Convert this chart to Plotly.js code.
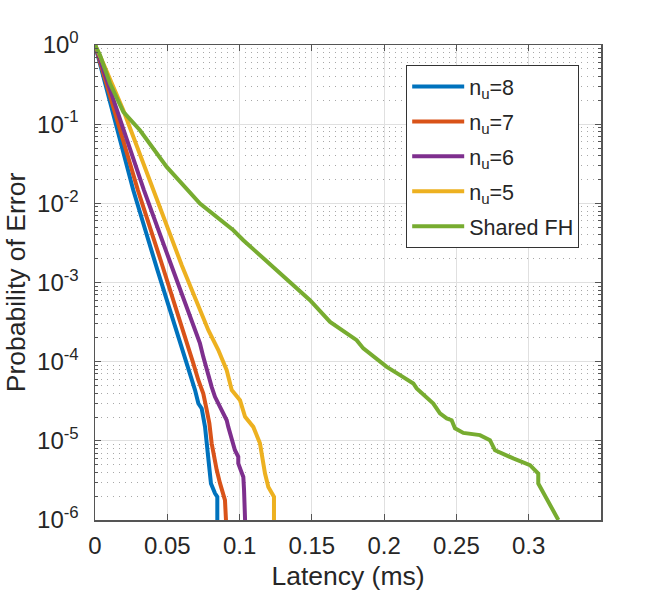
<!DOCTYPE html>
<html>
<head>
<meta charset="utf-8">
<script src="https://cdn.plot.ly/plotly-3.0.1.min.js"></script>
<style>
  html, body { margin: 0; padding: 0; background: #ffffff; }
  #chart { width: 665px; height: 594px; }
</style>
</head>
<body>
<div id="chart"></div>
<script>
// Latency (ms) versus probability of error, one curve per configuration

const latency_nu8 = [0, 0.0131, 0.0265, 0.0432, 0.0560, 0.0600, 0.0623, 0.0657, 0.0692, 0.0715, 0.0738, 0.0761, 0.0773, 0.0791, 0.0802, 0.0830, 0.0846, 0.0846];
const perr_nu8    = [1, 0.122, 0.0146, 0.00143, 2.5e-4, 1.54e-4, 1.15e-4, 7.1e-5, 4.37e-5, 2.96e-5, 2.56e-5, 1.5e-5, 9.3e-6, 5.2e-6, 2.9e-6, 2.17e-6, 1.96e-6, 1e-6];

const latency_nu7 = [0, 0.0149, 0.0297, 0.0454, 0.0611, 0.0646, 0.0680, 0.0715, 0.0749, 0.0773, 0.0791, 0.0807, 0.0823, 0.0842, 0.0865, 0.0887, 0.0899, 0.0906];
const perr_nu7    = [1, 0.1205, 0.0146, 0.00191, 2.5e-4, 1.54e-4, 9.5e-5, 5.83e-5, 3.96e-5, 2.44e-5, 1.66e-5, 9.3e-6, 6.3e-6, 4.27e-6, 2.9e-6, 2.17e-6, 1.78e-6, 1e-6];

const latency_nu6 = [0, 0.0169, 0.0339, 0.0515, 0.0692, 0.0726, 0.0749, 0.0773, 0.0807, 0.0830, 0.0865, 0.0887, 0.0911, 0.0922, 0.0934, 0.0946, 0.0968, 0.0991, 0.0991, 0.1008, 0.1026, 0.1031, 0.1038];
const perr_nu6    = [1, 0.1205, 0.0146, 0.00191, 2.5e-4, 1.7e-4, 1.15e-4, 7.8e-5, 4.8e-5, 3.6e-5, 2.69e-5, 2.22e-5, 1.82e-5, 1.5e-5, 1.24e-5, 1.02e-5, 7.6e-6, 6.3e-6, 5.2e-6, 4.27e-6, 3.5e-6, 2.39e-6, 1e-6];

const latency_nu5 = [0, 0.0048, 0.0196, 0.0403, 0.0600, 0.0784, 0.0853, 0.0911, 0.0946, 0.1003, 0.1038, 0.1095, 0.1141, 0.1176, 0.1199, 0.1238, 0.1238];
const perr_nu5    = [1, 0.641, 0.15, 0.0146, 0.00165, 2.5e-4, 1.4e-4, 7.8e-5, 4.37e-5, 3.27e-5, 2.01e-5, 1.5e-5, 9.3e-6, 3.87e-6, 2.62e-6, 1.96e-6, 1e-6];

const latency_shared = [0, 0.0035, 0.0104, 0.0196, 0.0311, 0.0496, 0.0726, 0.0957, 0.1026, 0.1418, 0.1487, 0.1626, 0.1810, 0.1856, 0.2018, 0.2110, 0.2202, 0.2225, 0.2294, 0.2340, 0.2386, 0.2433, 0.2467, 0.2490, 0.2548, 0.2663, 0.2732, 0.2767, 0.2893, 0.3009, 0.3066, 0.3066, 0.3205];
const perr_shared    = [1, 0.741, 0.326, 0.1426, 0.0838, 0.0288, 0.00993, 0.00457, 0.00342, 8.0e-4, 5.97e-4, 3.18e-4, 1.87e-4, 1.47e-4, 8.6e-5, 6.76e-5, 5.31e-5, 4.59e-5, 3.6e-5, 2.96e-5, 2.22e-5, 1.92e-5, 1.82e-5, 1.44e-5, 1.26e-5, 1.18e-5, 1.02e-5, 7.6e-6, 6.0e-6, 4.93e-6, 3.87e-6, 2.9e-6, 1e-6];

const seriesNames = ['n<sub>u</sub>=8', 'n<sub>u</sub>=7', 'n<sub>u</sub>=6', 'n<sub>u</sub>=5', 'Shared FH'];

const xTickVals = [0, 0.05, 0.1, 0.15, 0.2, 0.25, 0.3];
const xTickText = ['0', '0.05', '0.1', '0.15', '0.2', '0.25', '0.3'];
const yTickVals = [1, 0.1, 0.01, 0.001, 1e-4, 1e-5, 1e-6];
const yTickText = ['10<sup>0</sup>', '10<sup>-1</sup>', '10<sup>-2</sup>', '10<sup>-3</sup>', '10<sup>-4</sup>', '10<sup>-5</sup>', '10<sup>-6</sup>'];

// line colours (MATLAB default order)
const palette = ['#0072BD', '#D95319', '#7E2F8E', '#EDB120', '#77AC30'];

const xs = [latency_nu8, latency_nu7, latency_nu6, latency_nu5, latency_shared];
const ys = [perr_nu8, perr_nu7, perr_nu6, perr_nu5, perr_shared];

const traces = xs.map((x, i) => ({
  x: x,
  y: ys[i],
  type: 'scatter',
  mode: 'lines',
  name: seriesNames[i],
  legendgroup: 'g' + i,
  line: { color: palette[i], width: 4 }
}));

// minor decade positions 2..9 x 10^k for the dotted grid
const minorVals = [];
for (let k = -6; k < 0; k++) {
  for (let m = 2; m <= 9; m++) minorVals.push(m * Math.pow(10, k));
}

const fam = 'Liberation Sans, Arial, Helvetica, sans-serif';
const textColor = '#262626';
const axisColor = '#555555';
const f = (size) => ({ family: fam, size: size, color: textColor });

const layout = {
  width: 665,
  height: 594,
  margin: { l: 95, r: 64, t: 45, b: 74 },
  paper_bgcolor: '#ffffff',
  plot_bgcolor: '#ffffff',
  font: f(22),
  showlegend: true,
  legend: {
    x: 0.615, y: 0.958, xanchor: 'left', yanchor: 'top',
    bgcolor: '#ffffff', bordercolor: '#333333', borderwidth: 1,
    font: f(21.5),
    traceorder: 'grouped',
    tracegroupgap: 4,
    itemwidth: 52
  },
  xaxis: {
    range: [0, 0.35],
    tickmode: 'array', tickvals: xTickVals, ticktext: xTickText,
    ticks: 'inside', ticklen: 6, tickcolor: axisColor, tickwidth: 1,
    showline: true, linecolor: axisColor, linewidth: 1.5, mirror: 'allticks',
    showgrid: true, gridcolor: '#e0e0e0', gridwidth: 1,
    zeroline: false,
    tickfont: f(24),
    ticklabelstandoff: 4,
    title: { text: 'Latency (ms)', font: f(26.5), standoff: 8 }
  },
  yaxis: {
    type: 'log',
    range: [-6, 0],
    tickmode: 'array', tickvals: yTickVals, ticktext: yTickText,
    ticks: 'inside', ticklen: 6, tickcolor: axisColor, tickwidth: 1,
    showline: true, linecolor: axisColor, linewidth: 1.5, mirror: 'allticks',
    showgrid: true, gridcolor: '#e0e0e0', gridwidth: 1,
    zeroline: false,
    tickfont: f(24),
    ticklabelstandoff: 10,
    minor: {
      tickmode: 'array', tickvals: minorVals,
      ticks: 'inside', ticklen: 3, tickcolor: axisColor,
      showgrid: true, gridcolor: '#a8a8a8', griddash: '1px,5px', gridwidth: 1
    },
    title: { text: 'Probability of Error', font: f(26.5), standoff: 4 }
  }
};

Plotly.newPlot('chart', traces, layout, { displayModeBar: false, staticPlot: true });
</script>
</body>
</html>
